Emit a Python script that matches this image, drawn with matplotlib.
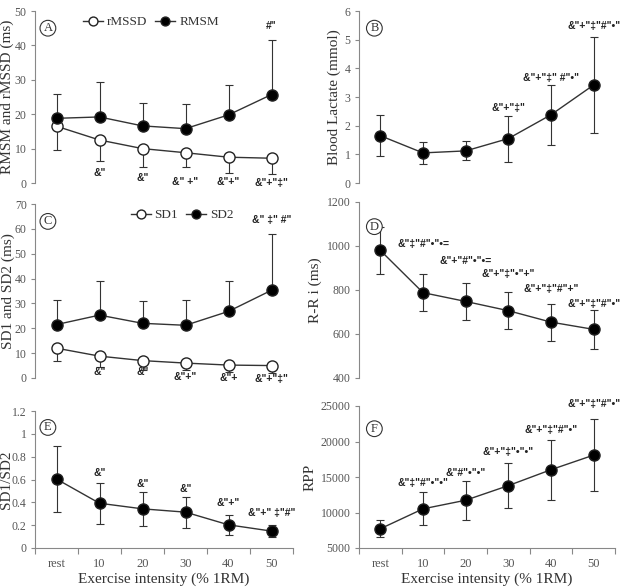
import matplotlib
matplotlib.use("Agg")
import matplotlib.pyplot as plt
import numpy as np

categories = ["rest", "10", "20", "30", "40", "50"]

# Panel A
rmssd = [16.5, 12.5, 10.0, 8.8, 7.5, 7.2]
rmssd_err = [7.0, 6.0, 5.3, 4.1, 4.7, 4.6]
rmsm = [18.8, 19.2, 16.6, 15.8, 19.8, 25.7]
rmsm_err = [7.2, 10.1, 6.8, 7.3, 8.7, 15.8]
ann_a_low = ["", '&"', '&"', '&" +"', '&"+"', '&"+"‡"']
ann_a_high = ["", "", "", "", "", '#"']

# Panel B
lactate = [1.65, 1.05, 1.12, 1.55, 2.38, 3.42]
lactate_err = [0.72, 0.37, 0.33, 0.80, 1.04, 1.67]
ann_b = ["", "", "", '&"+"‡"', '&"+"‡" #"•"', '&"+"‡"#"•"']

# Panel C
sd1 = [12.0, 8.8, 7.0, 6.0, 5.2, 5.0]
sd1_err = [5.2, 4.3, 3.7, 2.7, 2.7, 3.0]
sd2 = [21.5, 25.3, 22.0, 21.2, 26.8, 35.3]
sd2_err = [10.0, 13.7, 9.0, 10.3, 12.2, 22.7]
ann_c_low = ["", '&"', '&"', '&"+"', '&"+', '&"+"‡"']
ann_c_high = ["", "", "", "", "", '&" ‡" #"']

# Panel D
rri = [980, 788, 748, 706, 654, 621]
rri_err = [105, 85, 86, 84, 84, 89]
ann_d = ["", '&"‡"#"•"•=', '&"+"#"•"•=', '&"+"‡"•"+"', '&"+"‡"#"+"', '&"+"‡"#"•"']

# Panel E
ratio = [0.604, 0.392, 0.343, 0.314, 0.203, 0.148]
ratio_err = [0.29, 0.18, 0.15, 0.135, 0.09, 0.053]
ann_e = ["", '&"', '&"', '&"', '&"+"', '&"+" ‡"#"']

# Panel F
rpp = [7710, 10514, 11729, 13785, 16028, 18084]
rpp_err = [1190, 2340, 2730, 3170, 4200, 5050]
ann_f = ["", '&"‡"#"•"•"', '&"#"•"•"', '&"+"‡"•"•"', '&"+"‡"#"•"', '&"+"‡"#"•"']

SERIF = "Liberation Serif"
SANS = "Liberation Sans"
GREY = "#555555"
AX = "#888888"

W, H = 628, 588
fig = plt.figure(figsize=(W / 100, H / 100), dpi=100)


def box(x0, ytop, x1, ybot):
    return [x0 / W, 1 - ybot / H, (x1 - x0) / W, (ybot - ytop) / H]


x = np.arange(len(categories))


def setup(ax, ylim, yticks, ylabel, label_x, xaxis=False, yfmt=None):
    ax.set_xlim(-0.5, 5.5)
    ax.set_ylim(*ylim)
    ax.set_yticks(yticks)
    if yfmt:
        ax.set_yticklabels([yfmt(v) for v in yticks])
    for s in ["top", "right"]:
        ax.spines[s].set_visible(False)
    ax.spines["left"].set_color(AX)
    ax.spines["left"].set_linewidth(0.8)
    ax.tick_params(axis="y", direction="out", length=3, color=AX, labelsize=8.5,
                   labelcolor=GREY, pad=3)
    for t in ax.get_yticklabels():
        t.set_fontfamily(SERIF)
    ax.set_ylabel(ylabel, fontfamily=SERIF, fontsize=11, color="#333333")
    ax.yaxis.set_label_coords(label_x, 0.5)
    if xaxis:
        ax.spines["bottom"].set_color(AX)
        ax.spines["bottom"].set_linewidth(0.8)
        ax.set_xticks(np.arange(-0.5, 6, 1.0))
        ax.set_xticklabels([])
        ax.set_xticks(x, minor=True)
        ax.set_xticklabels(categories, minor=True, fontfamily=SERIF, fontsize=9, color=GREY)
        ax.tick_params(axis="x", which="major", direction="out", length=4, color=AX)
        ax.tick_params(axis="x", which="minor", length=0, pad=7)
        ax.set_xlabel("Exercise intensity (% 1RM)", fontfamily=SERIF, fontsize=11,
                      color="#333333", labelpad=2)
    else:
        ax.spines["bottom"].set_visible(False)
        ax.set_xticks([])


def letter(ax, ch, fx, fy):
    ax.text(fx, fy, ch, transform=ax.transAxes, fontfamily=SERIF, fontsize=9,
            ha="center", va="center", color="#333333",
            bbox=dict(boxstyle="circle,pad=0.15", fc="white", ec="#333333", lw=0.8))


def series(ax, y, err, filled=True, side="both", label=None):
    if side == "low":
        yerr = [err, [0] * len(err)]
    elif side == "high":
        yerr = [[0] * len(err), err]
    else:
        yerr = err
    ax.errorbar(x, y, yerr=yerr, fmt="none", ecolor="#333333", elinewidth=0.8,
                capsize=3, capthick=0.8, zorder=2)
    ax.plot(x, y, "-o", color="#333333", lw=1.0, ms=8,
            mfc="black" if filled else "white", mec="#222222", mew=1.0,
            label=label, zorder=3)


def ann(ax, labels, ys, fs=7.5):
    for i, (lab, yy) in enumerate(zip(labels, ys)):
        if lab:
            ax.text(i, yy, lab, ha="center", va="center", fontfamily=SANS,
                    fontweight="bold", fontsize=fs, color="#222222", clip_on=False)


legend_kw = dict(ncol=2, frameon=False, prop={"family": SERIF, "size": 9.5},
                 handlelength=1.5, handletextpad=0.3, columnspacing=0.6,
                 labelcolor="#333333", markerscale=0.8, loc="upper center")

# A
axA = fig.add_axes(box(35, 11, 293, 183))
setup(axA, (0, 50), [0, 10, 20, 30, 40, 50], "RMSM and rMSSD (ms)", -0.08)
series(axA, rmssd, rmssd_err, filled=False, side="low", label="rMSSD")
series(axA, rmsm, rmsm_err, filled=True, side="high", label="RMSM")
ann(axA, ann_a_low, [0, 2.8, 1.4, 0.4, 0.4, 0.1])
ann(axA, ann_a_high, [0, 0, 0, 0, 0, 45.5])
letter(axA, "A", 0.05, 0.9)
axA.legend(bbox_to_anchor=(0.45, 1.04), **legend_kw)

# B
axB = fig.add_axes(box(359, 11, 615, 183))
setup(axB, (0, 6), [0, 1, 2, 3, 4, 5, 6], "Blood Lactate (mmol)", -0.07)
series(axB, lactate, lactate_err)
ann(axB, ann_b, [0, 0, 0, 2.63, 3.67, 5.47])
letter(axB, "B", 0.06, 0.9)

# C
axC = fig.add_axes(box(35, 204, 293, 378))
setup(axC, (0, 70), [0, 10, 20, 30, 40, 50, 60, 70], "SD1 and SD2 (ms)", -0.078)
series(axC, sd1, sd1_err, filled=False, side="low", label="SD1")
series(axC, sd2, sd2_err, filled=True, side="high", label="SD2")
ann(axC, ann_c_low, [0, 2.3, 2.3, 0.5, 0.1, -0.5])
ann(axC, ann_c_high, [0, 0, 0, 0, 0, 63.5])
letter(axC, "C", 0.05, 0.9)
axC.legend(bbox_to_anchor=(0.57, 1.04), **legend_kw)

# D
axD = fig.add_axes(box(359, 202, 615, 378))
setup(axD, (400, 1200), [400, 600, 800, 1000, 1200], "R-R i (ms)", -0.145)
series(axD, rri, rri_err)
ann(axD, ann_d, [0, 1009, 930, 873, 805, 738])
letter(axD, "D", 0.06, 0.86)

# E
axE = fig.add_axes(box(35, 411, 293, 548))
setup(axE, (0, 1.2), [0, 0.2, 0.4, 0.6, 0.8, 1.0, 1.2], "SD1/SD2", -0.085, xaxis=True,
      yfmt=lambda v: "0" if v == 0 else ("1" if v == 1 else f"{v:g}"))
series(axE, ratio, ratio_err)
ann(axE, ann_e, [0, 0.655, 0.56, 0.52, 0.39, 0.305])
letter(axE, "E", 0.05, 0.88)

# F
axF = fig.add_axes(box(359, 406, 615, 548))
setup(axF, (5000, 25000), [5000, 10000, 15000, 20000, 25000], "RPP", -0.165, xaxis=True)
series(axF, rpp, rpp_err)
ann(axF, ann_f, [0, 14100, 15500, 18550, 21600, 25300])
letter(axF, "F", 0.06, 0.84)

fig.savefig("out.png", dpi=100, facecolor="white")
